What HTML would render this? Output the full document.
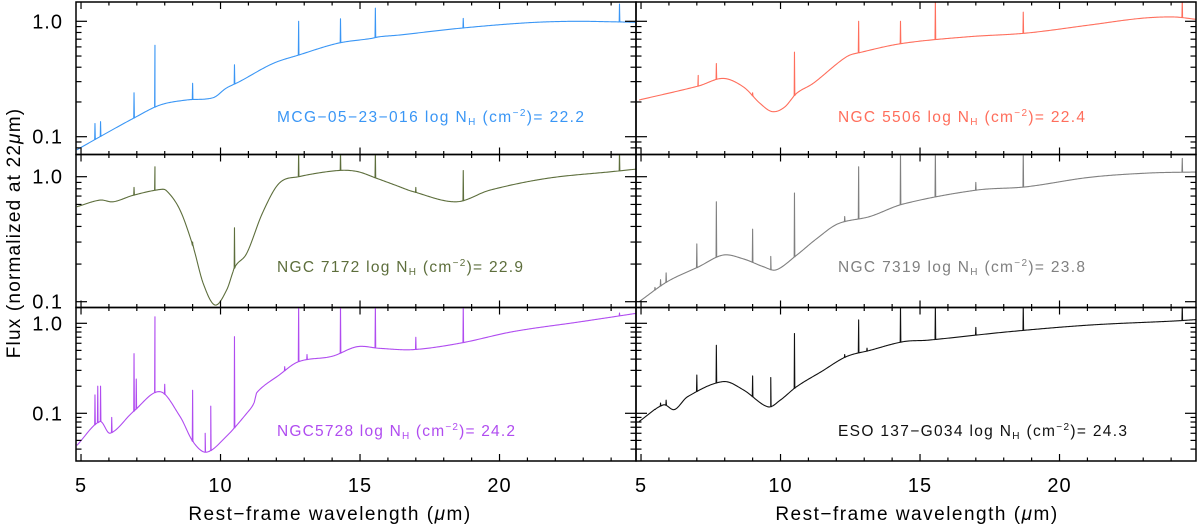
<!DOCTYPE html>
<html><head><meta charset="utf-8"><style>
html,body{margin:0;padding:0;background:#fff;}
svg{display:block;font-family:"Liberation Sans","DejaVu Sans",sans-serif;}
</style></head><body>
<svg id="chart" width="1200" height="529" viewBox="0 0 1200 529" xmlns="http://www.w3.org/2000/svg">
<text x="0" y="0" transform="translate(20,233) rotate(-90)" text-anchor="middle" font-size="19" fill="#000" letter-spacing="1.2">Flux (normalized at 22<tspan font-style="italic">μ</tspan>m)</text>
<text x="330" y="520" text-anchor="middle" font-size="19" fill="#000" letter-spacing="1.5">Rest−frame wavelength (<tspan font-style="italic">μ</tspan>m)</text>
<text x="917" y="520" text-anchor="middle" font-size="19" fill="#000" letter-spacing="1.5">Rest−frame wavelength (<tspan font-style="italic">μ</tspan>m)</text>
</svg>
<script>
// ---- data ----
const xTicksMajor = [5, 10, 15, 20];
const yTickLabels = ["0.1", "1.0"];
const yTickValues = [0.1, 1.0];

const mcgWave = [4.85,5.68,6.87,7.83,8.78,9.74,10.2,10.68,11.87,12.8,14.2,15.4,15.7,16.4,18.57,20.96,22.6,24.07,24.9];
const mcgFlux = [0.077,0.10,0.144,0.188,0.208,0.218,0.263,0.30,0.43,0.51,0.645,0.71,0.735,0.76,0.87,0.97,1.0,0.99,0.98];
const mcgLineWave = [5.5,5.7,6.9,7.65,9.0,10.5,12.8,14.3,15.55,18.7,24.3];
const mcgLinePeak = [0.13,0.135,0.24,0.62,0.29,0.42,1.0,1.05,1.3,1.06,1.41];

const n7172Wave = [4.85,5.68,6.15,6.87,7.83,8.07,8.55,9.02,9.38,9.8,10.22,10.52,10.94,11.5,12.1,12.8,14.2,14.9,15.6,16.3,16.9,18.45,19.65,21.7,24.07,24.9];
const n7172Flux = [0.575,0.65,0.63,0.71,0.79,0.77,0.54,0.275,0.14,0.094,0.124,0.19,0.244,0.51,0.885,1.0,1.12,1.1,0.97,0.85,0.76,0.63,0.78,0.97,1.1,1.15];
const n7172LineWave = [6.9,7.65,9.0,10.5,12.8,14.3,15.55,17.0,18.7,24.3];
const n7172LinePeak = [0.82,1.2,0.3,0.39,1.6,1.6,1.6,0.82,1.12,1.6];

const n5728Wave = [4.85,5.68,6.04,6.87,7.83,8.55,9.02,9.5,10.2,10.94,11.2,11.3,12.1,12.8,14.0,14.9,15.7,16.9,18.57,20.5,22.9,24.9];
const n5728Flux = [0.044,0.081,0.06,0.104,0.174,0.092,0.048,0.037,0.055,0.10,0.13,0.17,0.266,0.375,0.43,0.55,0.527,0.51,0.60,0.81,1.04,1.29];
const n5728LineWave = [5.5,5.6,5.7,6.1,6.9,6.98,7.65,8.0,9.0,9.45,9.65,10.5,12.3,12.8,13.1,14.3,15.55,17.0,18.7,24.3];
const n5728LinePeak = [0.16,0.2,0.2,0.09,0.46,0.24,1.18,0.21,0.18,0.06,0.12,0.71,0.33,1.6,0.45,1.6,1.6,0.7,1.6,1.3];

const n5506Wave = [4.93,7.06,7.94,8.67,9.26,9.7,10.14,10.58,11.17,12.35,12.9,14.4,16.74,18.8,21.1,22.9,24.1,24.9];
const n5506Flux = [0.208,0.275,0.32,0.27,0.195,0.165,0.18,0.238,0.29,0.49,0.54,0.645,0.735,0.79,0.93,1.06,1.09,1.04];
const n5506LineWave = [7.05,7.7,9.0,10.5,12.8,14.3,15.55,18.7,24.4];
const n5506LinePeak = [0.34,0.43,0.24,0.54,1.0,1.0,1.6,1.2,1.6];

const n7319Wave = [4.93,5.95,7.06,7.94,8.67,9.4,9.85,10.58,11.3,12.06,13.2,14.4,17.0,18.8,21.1,23.2,24.9];
const n7319Flux = [0.10,0.145,0.19,0.236,0.22,0.19,0.18,0.236,0.32,0.42,0.48,0.605,0.78,0.83,0.99,1.07,1.09];
const n7319LineWave = [5.5,5.7,5.9,7.0,7.7,9.0,9.65,10.5,12.3,12.8,14.3,15.55,17.0,18.7,24.4];
const n7319LinePeak = [0.13,0.15,0.17,0.29,0.63,0.38,0.23,0.74,0.48,1.2,1.6,1.6,0.9,1.6,1.4];

const esoWave = [4.93,5.8,6.2,6.67,7.94,8.67,9.55,9.99,10.58,11.46,12.35,13.2,14.4,15.3,18.2,21.1,24.1,24.9];
const esoFlux = [0.081,0.124,0.11,0.153,0.225,0.182,0.118,0.14,0.198,0.29,0.425,0.50,0.625,0.65,0.807,0.957,1.06,1.1];
const esoLineWave = [5.5,5.7,5.9,7.0,7.7,9.0,9.65,10.5,12.3,12.8,13.1,14.3,15.55,17.0,18.7,24.4];
const esoLinePeak = [0.11,0.13,0.14,0.266,0.57,0.26,0.25,0.77,0.45,1.09,0.53,1.6,1.6,0.9,1.6,1.6];

// ---- layout ----
const NS = "http://www.w3.org/2000/svg";
const svg = document.getElementById('chart');
const WMIN = 4.82, PXUM = 27.9;
const cols = [{x0:76,x1:636},{x0:636,x1:1196}];
const rows = [
  {y0:2, y1:154.5, yOne:21.3, dec:115.4},
  {y0:154.5, y1:307.5, yOne:176.7, dec:125},
  {y0:307.5, y1:461, yOne:323.3, dec:90}
];
const panels = [
  {c:0,r:0,name:'mcg-05-23-016',color:'#3a96f5',w:mcgWave,f:mcgFlux,lw:mcgLineWave,lp:mcgLinePeak,label:'MCG−05−23−016 log N',val:'22.2',lx:277,ly:122,len:307},
  {c:1,r:0,name:'ngc-5506',color:'#ff6e5c',w:n5506Wave,f:n5506Flux,lw:n5506LineWave,lp:n5506LinePeak,label:'NGC 5506 log N',val:'22.4',lx:838,ly:122,len:247},
  {c:0,r:1,name:'ngc-7172',color:'#5d6e3c',w:n7172Wave,f:n7172Flux,lw:n7172LineWave,lp:n7172LinePeak,label:'NGC 7172 log N',val:'22.9',lx:277,ly:272,len:246},
  {c:1,r:1,name:'ngc-7319',color:'#808080',w:n7319Wave,f:n7319Flux,lw:n7319LineWave,lp:n7319LinePeak,label:'NGC 7319 log N',val:'23.8',lx:838,ly:272,len:247},
  {c:0,r:2,name:'ngc5728',color:'#b04cf0',w:n5728Wave,f:n5728Flux,lw:n5728LineWave,lp:n5728LinePeak,label:'NGC5728 log N',val:'24.2',lx:277,ly:436,len:238},
  {c:1,r:2,name:'eso-137-g034',color:'#111111',w:esoWave,f:esoFlux,lw:esoLineWave,lp:esoLinePeak,label:'ESO 137−G034 log N',val:'24.3',lx:838,ly:436,len:289}
];
function xs(col,l){return cols[col].x0 + (l-WMIN)*PXUM;}
function ys(row,v){const R=rows[row];return R.yOne - Math.log10(v)*R.dec;}
function mk(tag,attrs,parent){const e=document.createElementNS(NS,tag);for(const k in attrs)e.setAttribute(k,attrs[k]);(parent||svg).appendChild(e);return e;}
// smooth (Catmull-Rom in log space) continuum evaluation for rendering
function contAt(w,f,l){
  const n=w.length;
  if(l<=w[0])return f[0];
  if(l>=w[n-1])return f[n-1];
  let i=0; while(i<n-2 && l>w[i+1]) i++;
  const L=k=>Math.log10(f[Math.max(0,Math.min(n-1,k))]);
  const W=k=>w[Math.max(0,Math.min(n-1,k))];
  const h=w[i+1]-w[i], t=(l-w[i])/h;
  const p0=L(i),p1=L(i+1);
  const m0=(L(i+1)-L(i-1))/(W(i+1)-W(i-1)||1)*h;
  const m1=(L(i+2)-L(i))/(W(i+2)-W(i)||1)*h;
  const t2=t*t,t3=t2*t;
  let v=(2*t3-3*t2+1)*p0+(t3-2*t2+t)*m0+(-2*t3+3*t2)*p1+(t3-t2)*m1;
  const lo=Math.min(p0,p1)-0.05, hi=Math.max(p0,p1)+0.05;
  v=Math.max(lo,Math.min(hi,v));
  return Math.pow(10,v);
}
const defs = mk('defs',{});
panels.forEach((p,i)=>{
  const C=cols[p.c],R=rows[p.r];
  const cp=mk('clipPath',{id:'clip'+i},defs);
  mk('rect',{x:C.x0,y:R.y0,width:C.x1-C.x0,height:R.y1-R.y0},cp);
  const g=mk('g',{'clip-path':'url(#clip'+i+')'});
  
  
  let pts=[];
  for(let l=p.w[0]; l<=p.w[p.w.length-1]+1e-9; l+=0.04) pts.push([l,contAt(p.w,p.f,l)]);
  p.lw.forEach((l,k)=>{const c=contAt(p.w,p.f,l);pts.push([l-0.012,c]);pts.push([l,p.lp[k]]);pts.push([l+0.012,c]);});
  pts.sort((a,b)=>a[0]-b[0]);
  const d=pts.map((q,k)=>(k?'L':'M')+xs(p.c,q[0]).toFixed(2)+','+ys(p.r,q[1]).toFixed(2)).join(' ');
  const path=mk('path',{d:d,fill:'none',stroke:p.color,'stroke-width':1.1,'stroke-linejoin':'round'},g);
  
  
  const t=mk('text',{x:p.lx,y:p.ly,'font-size':15.5,fill:p.color,textLength:p.len,lengthAdjust:'spacing'});
  
  
  t.innerHTML=p.label+'<tspan font-size="10" dy="3">H</tspan><tspan dy="-3"> (cm</tspan><tspan font-size="10" dy="-6">−2</tspan><tspan dy="6">)= '+p.val+'</tspan>';
  const fr=mk('rect',{x:C.x0,y:R.y0,width:C.x1-C.x0,height:R.y1-R.y0,fill:'none',stroke:'#000','stroke-width':1.5});
  
  
  for(let l=5;l<=24;l++){
    const x=xs(p.c,l), len=(xTicksMajor.indexOf(l)>=0)?7:3.5;
    mk('line',{x1:x,x2:x,y1:R.y1,y2:R.y1-len,stroke:'#000','stroke-width':1.2});
    mk('line',{x1:x,x2:x,y1:R.y0,y2:R.y0+len,stroke:'#000','stroke-width':1.2});
  }
  for(let e=-2;e<=0;e++){
    for(let m=1;m<=9;m++){
      const v=m*Math.pow(10,e), y=ys(p.r,v);
      if(y<R.y0+1||y>R.y1-1)continue;
      const len=(m===1)?11:5.5;
      mk('line',{x1:C.x0,x2:C.x0+len,y1:y,y2:y,stroke:'#000','stroke-width':1.2});
      mk('line',{x1:C.x1,x2:C.x1-len,y1:y,y2:y,stroke:'#000','stroke-width':1.2});
    }
  }
  if(p.c===0){
    yTickValues.forEach((v,k)=>{
      const tl=mk('text',{x:63,y:ys(p.r,v)+7,'text-anchor':'end','font-size':20,fill:'#000','letter-spacing':1});
      
      
      tl.textContent=yTickLabels[k];
    });
  }
  if(p.r===2){
    xTicksMajor.forEach(l=>{
      const tl=mk('text',{x:xs(p.c,l),y:492,'text-anchor':'middle','font-size':20,fill:'#000','letter-spacing':1});
      
      
      tl.textContent=String(l);
    });
  }
});
</script>
</body></html>
